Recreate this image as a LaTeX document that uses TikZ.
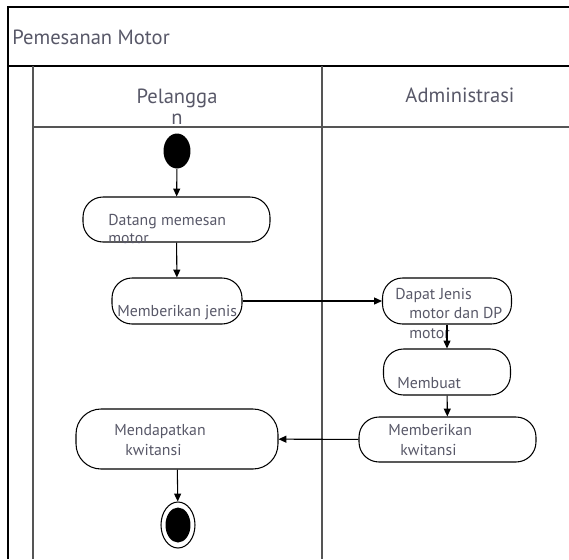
\documentclass[tikz,border=0pt]{standalone}
\usepackage{fontspec}
\setmainfont{PT Sans}
\usetikzlibrary{arrows.meta, shapes.geometric}
\definecolor{lbl}{RGB}{88,88,104}
\definecolor{lane}{RGB}{85,85,85}
\tikzset{
  act/.style={draw, rounded corners=0.4cm, line width=0.6pt, inner sep=0pt},
  actlbl/.style={text=lbl, font=\fontsize{9}{11}\selectfont, inner sep=0pt, anchor=base west, align=left},
  lanelbl/.style={text=lbl, font=\fontsize{11.7}{11.5}\selectfont, inner sep=0pt, align=center},
  flow/.style={line width=0.6pt, -{Triangle[length=4.5pt, width=4pt]}},
}

\begin{document}
\begin{tikzpicture}[x=0.02cm, y=-0.02cm]
    \useasboundingbox (0, 0) rectangle (569, 559);

    % frame and swimlanes
    \draw[line width=1.2pt] (8, 559) -- (8, 7) -- (569, 7);
    \draw[line width=1.2pt] (8, 66) -- (569, 66);
    \draw[lane, line width=0.7pt] (33, 66) -- (33, 559);
    \draw[lane, line width=0.7pt] (322, 66) -- (322, 559);
    \draw[lane, line width=0.7pt] (33, 127) -- (569, 127);

    \node[lanelbl, anchor=base west] (title) at (12, 44) {Pemesanan Motor};
    \node[lanelbl, anchor=base] (pelanggan) at (177, 124) {Pelangga\\n};
    \node[lanelbl, anchor=base] (admin) at (460, 102) {Administrasi};

    % activities
    \node[fill, ellipse, inner sep=0pt, minimum width=0.54cm, minimum height=0.7cm] (start) at (177, 151) {};
    \node[act, minimum width=3.74cm, minimum height=0.9cm] (datang) at (176.5, 219.5) {};
    \node[act, minimum width=2.6cm, minimum height=0.92cm] (jenis) at (177, 301) {};
    \node[act, minimum width=2.58cm, minimum height=0.92cm] (dapat) at (447, 301) {};
    \node[act, minimum width=2.54cm, minimum height=0.92cm] (membuat) at (447, 372) {};
    \node[act, minimum width=3.54cm, minimum height=0.9cm] (kwitansi) at (447.5, 439.5) {};
    \node[act, rounded corners=0.5cm, minimum width=4.04cm, minimum height=1.2cm] (dapatkan) at (177, 439) {};
    \node[draw, ellipse, line width=0.6pt, inner sep=0pt, minimum width=0.68cm, minimum height=0.92cm] (end) at (178, 525) {};
    \node[fill, ellipse, inner sep=0pt, minimum width=0.5cm, minimum height=0.7cm] (endin) at (178, 525) {};

    % labels (anchored on their last line)
    \node[actlbl, font=\fontsize{9}{9.8}\selectfont] (datang-txt) at (108, 243) {Datang memesan\\motor};
    \node[actlbl] (jenis-txt) at (117, 316) {Memberikan jenis};
    \node[actlbl] (dapat-txt) at (395, 338) {Dapat Jenis\\\hspace*{0.28cm}motor dan DP\\\hspace*{0.28cm}motor};
    \node[actlbl] (membuat-txt) at (397, 388) {Membuat};
    \node[actlbl] (kwitansi-txt) at (388, 455) {Memberikan\\\hspace*{0.24cm}kwitansi};
    \node[actlbl] (dapatkan-txt) at (114, 455) {Mendapatkan\\\hspace*{0.22cm}kwitansi};

    \draw[flow] (start) -- (datang);
    \draw[flow] (datang) -- (jenis);
    \draw[flow] (jenis) -- (dapat);
    \draw[flow] (dapat) -- (membuat);
    \draw[flow] (membuat) -- (kwitansi);
    \draw[flow] (kwitansi) -- (dapatkan);
    \draw[flow] (dapatkan) -- (end);
\end{tikzpicture}
\end{document}
